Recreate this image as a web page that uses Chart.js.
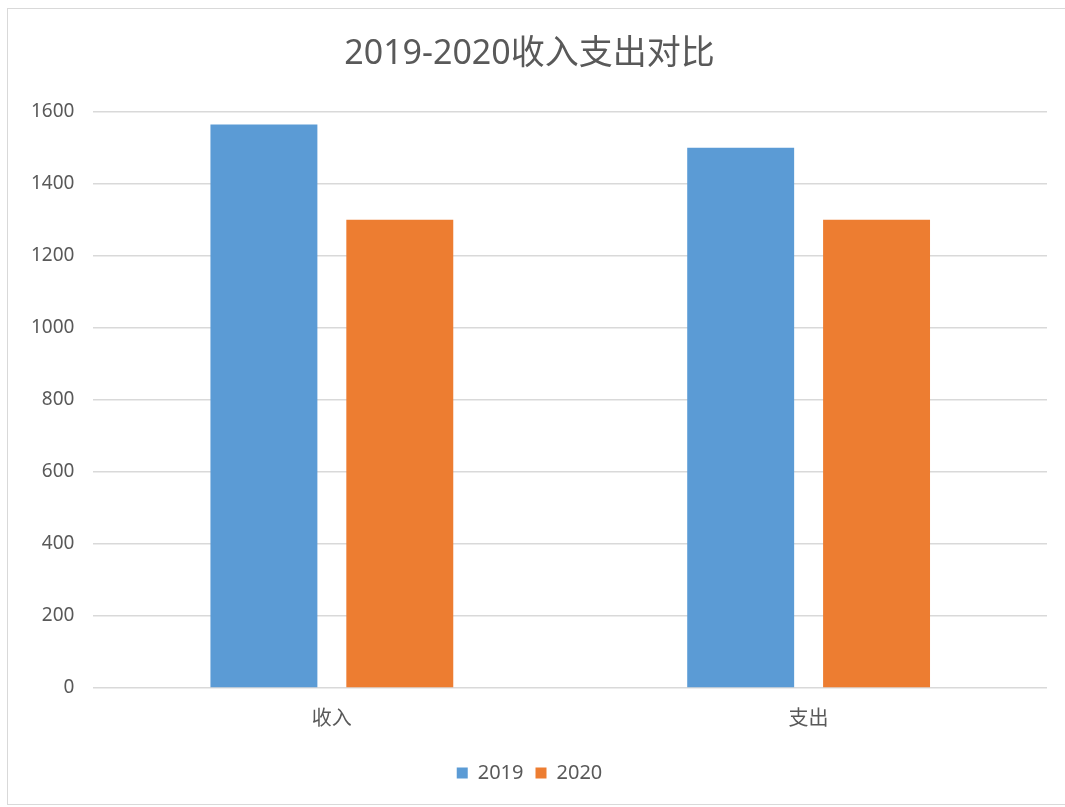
<!DOCTYPE html>
<html lang="zh-CN">
<head>
<meta charset="utf-8">
<title>2019-2020收入支出对比</title>
<script src="https://cdn.jsdelivr.net/npm/chart.js@4/dist/chart.umd.min.js"></script>
<style>
    html, body { margin: 0; padding: 0; background: #fff; }
    .frame {
        position: absolute;
        left: 7px; top: 8px;
        width: 1080px; height: 795px;
        border: 1px solid #d9d9d9;
    }
    .chart-box {
        position: absolute;
        left: 0; top: 0;
        width: 1065px; height: 807px;
    }
</style>
</head>
<body>
<div class="frame"></div>
<div class="chart-box"><canvas id="compareChart"></canvas></div>
<script>
// categories and series
const categories = ['收入', '支出'];
const seriesNames = ['2019', '2020'];
const values2019 = [1565, 1500];
const values2020 = [1300, 1300];
const yTicks = [0, 200, 400, 600, 800, 1000, 1200, 1400, 1600];

const colors = {
    blue: '#5b9bd5',
    orange: '#ed7d31',
    text: '#595959',
    grid: '#d9d9d9'
};
const fontFamily = "'Noto Sans', 'Noto Sans CJK SC', sans-serif";

const ctx = document.getElementById('compareChart').getContext('2d');

new Chart(ctx, {
    type: 'bar',
    data: {
        labels: categories,
        datasets: [{
            label: seriesNames[0],
            data: values2019,
            backgroundColor: colors.blue
        }, {
            label: seriesNames[1],
            data: values2020,
            backgroundColor: colors.orange
        }]
    },
    options: {
        responsive: true,
        maintainAspectRatio: false,
        animation: false,
        categoryPercentage: 0.57,
        barPercentage: 0.787,
        layout: {
            padding: { top: 0, left: 12, right: 18, bottom: 14 }
        },
        scales: {
            x: {
                grid: { display: false, drawTicks: false },
                border: { display: false },
                ticks: {
                    color: colors.text,
                    padding: 19,
                    font: { family: fontFamily, size: 20 }
                },
                // leave a little room between the category labels and the legend
                afterFit: function(axis) {
                    axis.height += 1;
                }
            },
            y: {
                min: yTicks[0],
                max: yTicks[yTicks.length - 1],
                afterBuildTicks: function(axis) {
                    axis.ticks = yTicks.map(v => ({ value: v }));
                },
                grid: { color: colors.grid, lineWidth: 1.5, drawTicks: false },
                border: { display: false },
                ticks: {
                    color: colors.text,
                    padding: 19,
                    font: { family: fontFamily, size: 19 },
                    callback: function(value) {
                        return String(value);
                    }
                }
            }
        },
        plugins: {
            title: {
                display: true,
                text: '2019-2020收入支出对比',
                color: colors.text,
                font: { family: fontFamily, size: 34, weight: 'normal' },
                padding: { top: 34, bottom: 37 }
            },
            legend: {
                display: true,
                position: 'bottom',
                labels: {
                    color: colors.text,
                    boxWidth: 11,
                    boxHeight: 11,
                    padding: 12,
                    font: { family: fontFamily, size: 20 }
                }
            },
            tooltip: { enabled: false }
        }
    }
});
</script>
</body>
</html>
